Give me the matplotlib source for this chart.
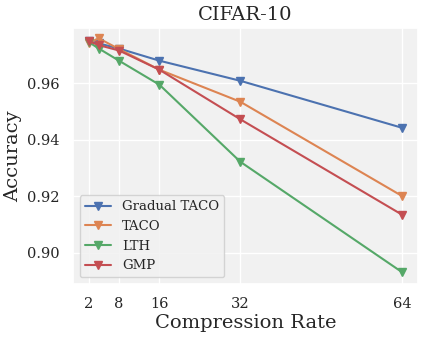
import matplotlib
matplotlib.use("Agg")
import matplotlib.pyplot as plt
import seaborn as sns

rates = [2, 4, 8, 16, 32, 64]
gradual_taco = [0.9750, 0.9740, 0.9722, 0.9679, 0.9608, 0.9442]
taco = [0.9742, 0.9758, 0.9720, 0.9647, 0.9534, 0.9201]
lth = [0.9745, 0.9722, 0.9679, 0.9594, 0.9322, 0.8932]
gmp = [0.9748, 0.9734, 0.9715, 0.9647, 0.9472, 0.9135]
xticks = [2, 8, 16, 32, 64]

sns.set_theme(style="darkgrid")
plt.rcParams['font.family'] = ['DejaVu Serif']
plt.rcParams['axes.facecolor'] = '#f1f1f1'

fig, ax = plt.subplots(figsize=(4.32, 3.39), dpi=100)
pal = sns.color_palette("deep")
ax.plot(rates, gradual_taco, marker='v', color=pal[0], label='Gradual TACO')
ax.plot(rates, taco, marker='v', color=pal[1], label='TACO')
ax.plot(rates, lth, marker='v', color=pal[2], label='LTH')
ax.plot(rates, gmp, marker='v', color=pal[3], label='GMP')

ax.set_xticks(xticks)
ax.set_ylim(0.889, 0.9794)
ax.set_yticks([0.90, 0.92, 0.94, 0.96])
ax.tick_params(labelsize=10.5)
ax.set_xlabel('Compression Rate', fontsize=14, labelpad=2)
ax.set_ylabel('Accuracy', fontsize=14, labelpad=4)
ax.set_title('CIFAR-10', fontsize=14)
ax.legend(loc='lower left', fontsize=9.5, facecolor='#f1f1f1')

fig.subplots_adjust(left=0.169, right=0.967, top=0.917, bottom=0.162)
plt.savefig('out.png', dpi=100)
